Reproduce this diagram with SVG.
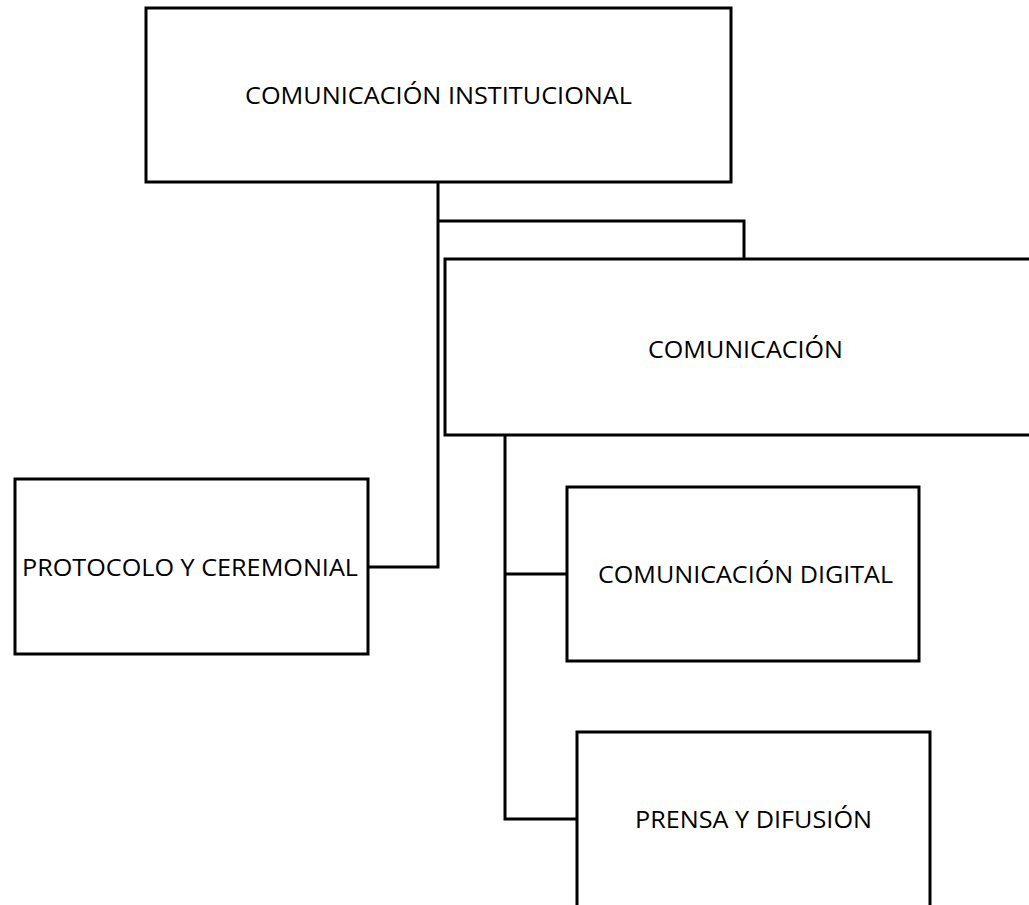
<svg xmlns="http://www.w3.org/2000/svg" width="1029" height="905" viewBox="0 0 1029 905">
<style>
.box{fill:#fff;stroke:#000;stroke-width:3}
.lbl{font-family:"Open Sans","Liberation Sans",sans-serif;font-size:24px;fill:#000;text-anchor:middle}
.conn{fill:none;stroke:#000;stroke-width:3}
</style>
<rect width="1029" height="905" fill="#fff"/>
<g id="connectors">
<path class="conn" d="M438 182 V567 H368"/>
<path class="conn" d="M438 221 H744 V259"/>
<path class="conn" d="M505 435 V819 H577"/>
<path class="conn" d="M505 574 H567"/>
</g>
<g id="n-institucional">
<rect class="box" x="146" y="8" width="585" height="174"/>
<text class="lbl" x="438.5" y="104" textLength="387" lengthAdjust="spacingAndGlyphs">COMUNICACIÓN INSTITUCIONAL</text>
</g>
<g id="n-comunicacion">
<rect class="box" x="445" y="259" width="600" height="176"/>
<text class="lbl" x="745.5" y="358" textLength="195" lengthAdjust="spacingAndGlyphs">COMUNICACIÓN</text>
</g>
<g id="n-protocolo">
<rect class="box" x="15" y="479" width="353" height="175"/>
<text class="lbl" x="190" y="576" textLength="336" lengthAdjust="spacingAndGlyphs">PROTOCOLO Y CEREMONIAL</text>
</g>
<g id="n-digital">
<rect class="box" x="567" y="487" width="352" height="174"/>
<text class="lbl" x="745.5" y="583" textLength="295" lengthAdjust="spacingAndGlyphs">COMUNICACIÓN DIGITAL</text>
</g>
<g id="n-prensa">
<rect class="box" x="577" y="732" width="353" height="200"/>
<text class="lbl" x="753.5" y="828" textLength="237" lengthAdjust="spacingAndGlyphs">PRENSA Y DIFUSIÓN</text>
</g>
</svg>
